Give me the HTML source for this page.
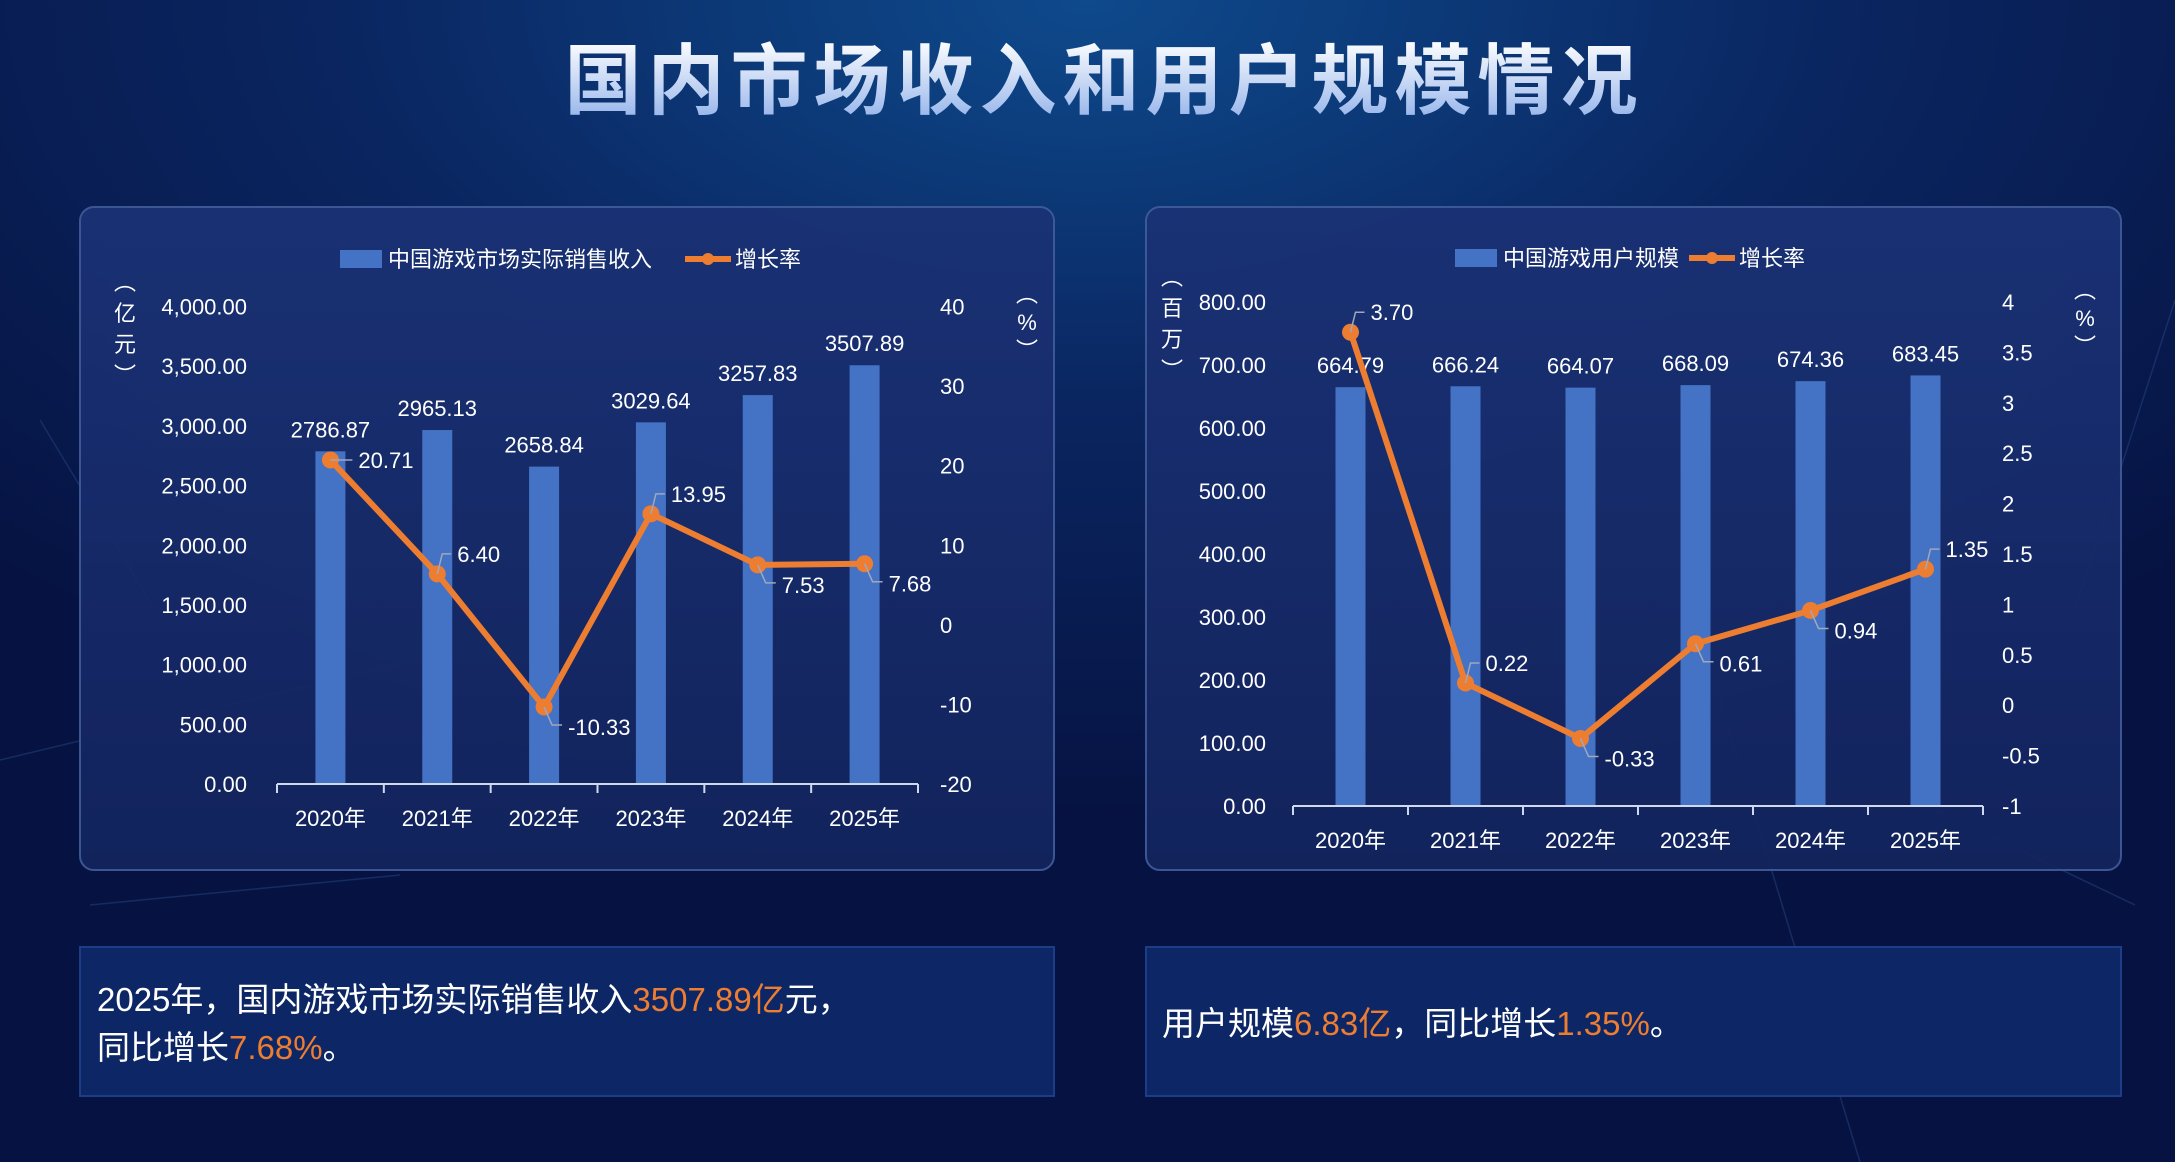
<!DOCTYPE html>
<html><head><meta charset="utf-8">
<style>
html,body{margin:0;padding:0;width:2175px;height:1162px;overflow:hidden;background:#071645;}
svg{display:block}
text{font-family:"Liberation Sans","Noto Sans CJK SC",sans-serif;}
</style></head>
<body>
<svg id="root" width="2175" height="1162" viewBox="0 0 2175 1162">
<defs>
<radialGradient id="bgGlow" cx="0.5" cy="0" r="0.7">
<stop offset="0" stop-color="#0e4a8c"/><stop offset="0.5" stop-color="#0a2560"/><stop offset="1" stop-color="#061342"/>
</radialGradient>
<linearGradient id="titleGrad" x1="0" y1="0" x2="0" y2="1">
<stop offset="0" stop-color="#ffffff"/><stop offset="1" stop-color="#8fb0ea"/>
</linearGradient>
<linearGradient id="panelGrad" x1="0" y1="0" x2="0" y2="1">
<stop offset="0" stop-color="#1a3275"/><stop offset="1" stop-color="#13245e"/>
</linearGradient>
</defs>
<rect x="0" y="0" width="2175" height="1162" fill="url(#bgGlow)"/>
<g stroke="#2a4a8a" stroke-width="1.5" opacity="0.45" fill="none">
<line x1="40" y1="420" x2="155" y2="610"/><line x1="90" y1="905" x2="400" y2="875"/><line x1="0" y1="760" x2="500" y2="640"/>
<line x1="1790" y1="740" x2="2135" y2="905"/><line x1="2175" y1="300" x2="2075" y2="610"/><line x1="1720" y1="700" x2="1860" y2="1162"/>
</g>
<text x="1104" y="108" text-anchor="middle" font-size="77" font-weight="bold" fill="url(#titleGrad)" letter-spacing="6">国内市场收入和用户规模情况</text>

<rect x="80" y="207" width="974" height="663" rx="14" fill="url(#panelGrad)" stroke="#3f5a98" stroke-width="2" opacity="0.95"/>
<rect x="1146" y="207" width="975" height="663" rx="14" fill="url(#panelGrad)" stroke="#3f5a98" stroke-width="2" opacity="0.95"/>

<g id="chartL"></g>
<g id="chartR"></g>

<rect x="80" y="947" width="974" height="149" fill="#0d2766" stroke="#1d3d86" stroke-width="2"/>
<text x="97" y="1011" font-size="33" fill="#ffffff">2025年，国内游戏市场实际销售收入<tspan fill="#ed7d31">3507.89亿</tspan>元，</text>
<text x="97" y="1059" font-size="33" fill="#ffffff">同比增长<tspan fill="#ed7d31">7.68%</tspan>。</text>
<rect x="1146" y="947" width="975" height="149" fill="#0d2766" stroke="#1d3d86" stroke-width="2"/>
<text x="1162" y="1035" font-size="33" fill="#ffffff">用户规模<tspan fill="#ed7d31">6.83亿</tspan>，同比增长<tspan fill="#ed7d31">1.35%</tspan>。</text>
</svg>
<script>
const categories = ['2020年','2021年','2022年','2023年','2024年','2025年'];
const revenueValues = [2786.87, 2965.13, 2658.84, 3029.64, 3257.83, 3507.89];
const revenueGrowth = [20.71, 6.40, -10.33, 13.95, 7.53, 7.68];
const revenueLeftTicks = [0, 500, 1000, 1500, 2000, 2500, 3000, 3500, 4000];
const revenueRightTicks = [-20, -10, 0, 10, 20, 30, 40];
const revenueLabelDir = ['right','up','down','up','down','down'];
const userValues = [664.79, 666.24, 664.07, 668.09, 674.36, 683.45];
const userGrowth = [3.70, 0.22, -0.33, 0.61, 0.94, 1.35];
const userLeftTicks = [0, 100, 200, 300, 400, 500, 600, 700, 800];
const userRightTicks = [-1, -0.5, 0, 0.5, 1, 1.5, 2, 2.5, 3, 3.5, 4];
const userLabelDir = ['up','up','down','down','down','up'];

const NS = 'http://www.w3.org/2000/svg';
function mk(parent, tag, attrs, txt){
  const e = document.createElementNS(NS, tag);
  for (const k in attrs) e.setAttribute(k, attrs[k]);
  if (txt !== undefined) e.textContent = txt;
  parent.appendChild(e);
  return e;
}
function fmt2(v){ return v.toLocaleString('en-US',{minimumFractionDigits:2,maximumFractionDigits:2}); }
function vtext(g, x, y, chars, step, name){
  const t = mk(g,'text',{'font-size':22, fill:'#fff','text-anchor':'middle'});
  
  
  chars.forEach((c,i) => { mk(t,'tspan',{x:x, y:y+i*step}, c); });
}

function drawChart(g, cfg){
  const yL = v => cfg.y0 - (v - cfg.lMin)/(cfg.lMax - cfg.lMin)*(cfg.y0 - cfg.y1);
  const yR = v => cfg.y0 - (v - cfg.rMin)/(cfg.rMax - cfg.rMin)*(cfg.y0 - cfg.y1);
  const step = (cfg.x1 - cfg.x0)/cfg.cats.length;
  const xC = i => cfg.x0 + step*(i+0.5);
  const lg = mk(g,'g',{});
  
  
  const lb = mk(lg,'rect',{x:cfg.legX, y:cfg.legY-9, width:42, height:18, fill:'#4472c4'});
  
  
  const lt = mk(lg,'text',{x:cfg.legX+48, y:cfg.legY+8, 'font-size':22, fill:'#fff'}, cfg.barName);
  
  
  const lx = cfg.legX + cfg.legGap;
  const ll = mk(lg,'line',{x1:lx, y1:cfg.legY, x2:lx+46, y2:cfg.legY, stroke:'#ed7d31','stroke-width':6});
  
  
  mk(lg,'circle',{cx:lx+23, cy:cfg.legY, r:6, fill:'#ed7d31'});
  const lt2 = mk(lg,'text',{x:lx+50, y:cfg.legY+8, 'font-size':22, fill:'#fff'}, '增长率');
  
  
  vtext(g, cfg.unitLX, cfg.unitLY, cfg.unitL, 31, 'left-axis-unit');
  vtext(g, cfg.unitRX, cfg.unitRY, ['︵','%','︶'], 28, 'right-axis-unit');
  cfg.lTicks.forEach(t => {
    const e = mk(g,'text',{x:cfg.lLabX, y:yL(t)+8, 'font-size':22, fill:'#fff', 'text-anchor':'end'}, fmt2(t));
    
    
  });
  cfg.rTicks.forEach(t => {
    const e = mk(g,'text',{x:cfg.rLabX, y:yR(t)+8, 'font-size':22, fill:'#fff'}, String(t));
    
    
  });
  cfg.bars.forEach((v,i) => {
    const b = mk(g,'rect',{x:xC(i)-15, y:yL(v), width:30, height:cfg.y0-yL(v), fill:'#4472c4'});
    
    
    const t = mk(g,'text',{x:xC(i), y:yL(v)-14, 'font-size':22, fill:'#fff','text-anchor':'middle'}, v.toFixed(2));
    
    
  });
  const ax = mk(g,'line',{x1:cfg.x0, y1:cfg.y0, x2:cfg.x1, y2:cfg.y0, stroke:'#cfd8ee','stroke-width':2});
  
  
  for (let i=0;i<=cfg.cats.length;i++){
    mk(g,'line',{x1:cfg.x0+step*i, y1:cfg.y0, x2:cfg.x0+step*i, y2:cfg.y0+9, stroke:'#cfd8ee','stroke-width':2});
  }
  cfg.cats.forEach((c,i) => {
    const t = mk(g,'text',{x:xC(i), y:cfg.y0+42, 'font-size':22, fill:'#fff','text-anchor':'middle'}, c);
    
    
  });
  const pts = cfg.growth.map((v,i) => xC(i)+','+yR(v)).join(' ');
  const pl = mk(g,'polyline',{points:pts, fill:'none', stroke:'#ed7d31','stroke-width':6,'stroke-linejoin':'round'});
  
  
  cfg.growth.forEach((v,i) => {
    const px = xC(i), py = yR(v);
    const c = mk(g,'circle',{cx:px, cy:py, r:8.5, fill:'#ed7d31'});
    
    
    const d = cfg.dirs[i];
    let lx, ly, path;
    if (d==='up'){ path = `M${px},${py} L${px+5},${py-20} L${px+14},${py-20}`; lx=px+20; ly=py-12; }
    else if (d==='down'){ path = `M${px},${py} L${px+8},${py+18} L${px+18},${py+18}`; lx=px+24; ly=py+28; }
    else { path = `M${px},${py} L${px+22},${py}`; lx=px+28; ly=py+8; }
    mk(g,'path',{d:path, fill:'none', stroke:'#a0a8bc','stroke-width':1.5});
    const t = mk(g,'text',{x:lx, y:ly, 'font-size':22, fill:'#fff'}, v.toFixed(2));
    
    
  });
}

drawChart(document.getElementById('chartL'), {
  cats:categories, bars:revenueValues, growth:revenueGrowth, dirs:revenueLabelDir,
  lTicks:revenueLeftTicks, rTicks:revenueRightTicks, lMin:0, lMax:4000, rMin:-20, rMax:40,
  x0:277, x1:918, y0:784, y1:306.5, lLabX:247, rLabX:940,
  legX:340, legY:259, legGap:345, barName:'中国游戏市场实际销售收入',
  unitL:['︵','亿','元','︶'], unitLX:125, unitLY:290, unitRX:1027, unitRY:302
});
drawChart(document.getElementById('chartR'), {
  cats:categories, bars:userValues, growth:userGrowth, dirs:userLabelDir,
  lTicks:userLeftTicks, rTicks:userRightTicks, lMin:0, lMax:800, rMin:-1, rMax:4,
  x0:1293, x1:1983, y0:806, y1:302, lLabX:1266, rLabX:2002,
  legX:1455, legY:258, legGap:234, barName:'中国游戏用户规模',
  unitL:['︵','百','万','︶'], unitLX:1172, unitLY:285, unitRX:2085, unitRY:298
});
</script>
</body></html>
